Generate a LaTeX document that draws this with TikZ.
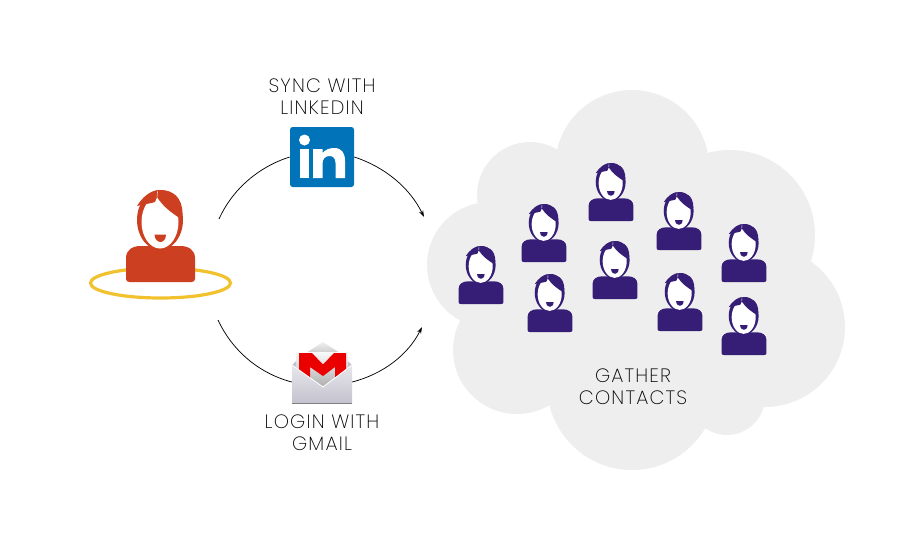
\documentclass[tikz,border=0pt]{standalone}
\usepackage{fontspec}
\setmainfont{Poppins}[UprightFont=* ExtraLight,LetterSpace=6]
\usetikzlibrary{arrows.meta, positioning}
\definecolor{userred}{RGB}{205,63,33}
\definecolor{contactpurple}{RGB}{54,30,118}
\definecolor{ringyellow}{RGB}{242,193,46}
\definecolor{cloudgray}{RGB}{238,238,239}
\definecolor{linkedinblue}{RGB}{0,115,185}
\definecolor{gmailred}{RGB}{235,0,0}
\definecolor{envelopetop}{RGB}{232,231,236}
\definecolor{envelopebottom}{RGB}{196,194,206}
\tikzset{
    caption/.style={font=\fontsize{14.5}{16.5}\selectfont, text=black, align=center, inner sep=0pt},
    logobox/.style={rectangle, inner sep=0pt, minimum width=#1*0.75pt},
    contactsize/.style={xscale=0.65, yscale=0.63},
    syncarrow/.style={black, line width=0.55pt},
    synctip/.style={syncarrow, -{Stealth[length=5pt, width=3.2pt]}},
    pics/person/.style={code={
        \fill[#1] (-34.5,-24) .. controls (-34.5,-32) and (-28,-36) .. (-20,-36) -- (20,-36) .. controls (28,-36) and (34.5,-32) .. (34.5,-24) -- (34.5,-3) .. controls (34.5,-1) and (33,0) .. (31,0) -- (-31,0) .. controls (-33,0) and (-34.5,-1) .. (-34.5,-3) -- cycle;
        \fill[#1] (-0.5,-62) ellipse [x radius=23, y radius=30];
        \fill[white] (-0.5,-60) ellipse [x radius=18.5, y radius=26.5];
        \fill[#1] (-3.5,-85) .. controls (3,-75) and (10,-70) .. (20.5,-63) -- (22,-68) .. controls (22,-85) and (12,-92) .. (0,-92) .. controls (-10,-92) and (-18,-85) .. (-23.5,-76) .. controls (-15,-78) and (-8,-79) .. (-5.5,-80) -- cycle;
        \draw[white, line width=0.3pt] (-3,-91) -- (-3.5,-85);
        \fill[#1] (-6,-47.5) -- (5.5,-47.5) .. controls (5.5,-42) and (2,-40) .. (0,-40) .. controls (-2,-40) and (-6,-42) .. (-6,-47.5) -- cycle;
    }}
}

\begin{document}
\begin{tikzpicture}[x=0.75pt, y=-0.75pt]
\useasboundingbox (0,0) rectangle (904,547);

\foreach \cx/\cy/\cr in {632/167/77, 530/195/53, 490/265/63, 517/350/64, 632/385/85, 727/397/38, 765/327/80, 730/235/85}
    \fill[cloudgray] (\cx,\cy) circle [radius=\cr];
\fill[cloudgray] (520,220) rectangle (760,400);

\draw[ringyellow, line width=2.4pt] (160.5,283) ellipse [x radius=70, y radius=15];
\pic (user) at (160.5,282) {person=userred};

\pic (contacta) at (481,304) [contactsize] {person=contactpurple};
\pic (contactb) at (544,262) [contactsize] {person=contactpurple};
\pic (contactc) at (550,332) [contactsize] {person=contactpurple};
\pic (contactd) at (611,221) [contactsize] {person=contactpurple};
\pic (contacte) at (615,299) [contactsize] {person=contactpurple};
\pic (contactf) at (679,250) [contactsize] {person=contactpurple};
\pic (contactg) at (680,331) [contactsize] {person=contactpurple};
\pic (contacth) at (744,282) [contactsize] {person=contactpurple};
\pic (contacti) at (744,355) [contactsize] {person=contactpurple};

\node[logobox=64, minimum height=45pt, fill=linkedinblue, rounded corners=2pt] (linkedin) at (322,157) {};
\fill[white] (304.5,140) circle [radius=5.5];
\fill[white] (300,149) rectangle (309,178);
\fill[white] (313,149) -- (322.5,149) -- (322.5,153) .. controls (325,150) and (329,148) .. (334,148) .. controls (342,148) and (345,153) .. (345,161) -- (345,178) -- (335.5,178) -- (335.5,163) .. controls (335.5,158) and (333,156) .. (329.5,156) .. controls (325,156) and (322.5,159) .. (322.5,164) -- (322.5,178) -- (313,178) -- cycle;

\node[logobox=60, minimum height=33pt, fill=none] (gmail) at (322,382) {};
\shade[top color=black!6, bottom color=black!20] (323,342) -- (340,353) -- (306,353) -- cycle;
\shade[top color=black!2, bottom color=black!30] (296,352) rectangle (348,385);
\fill[envelopebottom] (292,365) -- (296,361) -- (296,368) -- cycle (352,365) -- (348,361) -- (348,368) -- cycle;
\fill[gmailred] (299,353) -- (312,353) -- (323,364.5) -- (334,353) -- (346,353) -- (346,378) -- (335,378) -- (335,367) -- (323,376) -- (310,367) -- (310,378) -- (299,378) -- cycle;
\shade[top color=envelopetop, bottom color=envelopebottom] (292,365) -- (323,387) -- (352,365) -- (352,403) -- (292,403) -- cycle;
\draw[white, line width=0.6pt] (292,365) -- (323,387) -- (352,365);
\fill[black!50] (292,403) rectangle (352,404);

\coordinate (synca) at (219,219);
\coordinate (syncb) at (424,217);
\coordinate (logina) at (218,320);
\coordinate (loginb) at (422,327);
\draw[syncarrow] (synca) .. controls (232,190) and (258,167) .. (linkedin.west);
\draw[synctip] (linkedin.east) .. controls (385,167) and (410,188) .. (syncb);
\draw[syncarrow] (logina) .. controls (232,350) and (258,373) .. (gmail.west);
\draw[synctip] (gmail.east) .. controls (383,374) and (408,355) .. (loginb);

\node[caption] (synctext) at (322,96.5) {SYNC WITH\\LINKEDIN};
\node[caption] (logintext) at (322,433) {LOGIN WITH\\GMAIL};
\node[caption] (gathertext) at (633,386.5) {GATHER\\CONTACTS};
\end{tikzpicture}
\end{document}
